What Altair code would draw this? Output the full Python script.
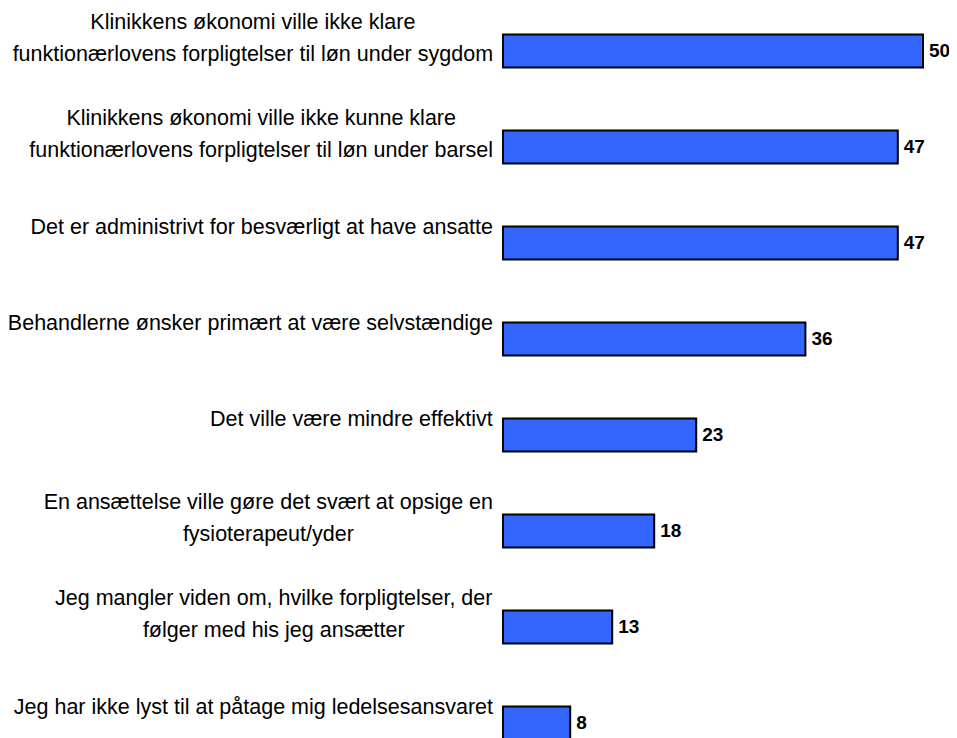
import altair as alt
import pandas as pd

labels = [
    "Klinikkens økonomi ville ikke klare\nfunktionærlovens forpligtelser til løn under sygdom",
    "Klinikkens økonomi ville ikke kunne klare\nfunktionærlovens forpligtelser til løn under barsel",
    "Det er administrivt for besværligt at have ansatte",
    "Behandlerne ønsker primært at være selvstændige",
    "Det ville være mindre effektivt",
    "En ansættelse ville gøre det svært at opsige en\nfysioterapeut/yder",
    "Jeg mangler viden om, hvilke forpligtelser, der\nfølger med his jeg ansætter",
    "Jeg har ikke lyst til at påtage mig ledelsesansvaret",
]
values = [50, 47, 47, 36, 23, 18, 13, 8]

FONT = "Liberation Sans"
FS = 21.5
LH = 32
BAND_HALF = 16.5  # half of the bar thickness (yOffset is measured from band start)

# Arial / Liberation Sans advance widths (per 1000 em) used to centre multi-line labels
_W = dict(zip("abcdefghijklmnopqrstuvwxyz",
              [556, 556, 500, 556, 556, 278, 556, 556, 222, 222, 500, 222, 833,
               556, 556, 556, 556, 333, 500, 278, 556, 500, 722, 500, 500, 500]))
_W.update({" ": 278, ",": 278, "/": 278, ".": 278, "æ": 889, "ø": 611, "å": 556,
           "K": 667, "D": 722, "B": 667, "E": 667, "J": 500})


def text_width(s):
    return max(sum(_W.get(c, 556) for c in line) for line in s.split("\n")) * FS / 1000.0


GAP = 10
df = pd.DataFrame({"label": labels, "value": values})
df["cx"] = [-GAP - text_width(s) / 2 for s in labels]
df["off"] = [BAND_HALF - 15 - (s.count("\n")) * 13 for s in labels]
order = labels

y = alt.Y("label:N", sort=order, axis=None,
          scale=alt.Scale(range=[-5, 763], paddingInner=0.656, paddingOuter=0.328))

base = alt.Chart(df)

bars = base.mark_bar(color="#3366FF", stroke="black", strokeWidth=2).encode(
    x=alt.X("value:Q", axis=None, scale=alt.Scale(domain=[0, 50], nice=False, zero=True)),
    y=y,
)

vals = base.mark_text(align="left", baseline="middle", dx=6, font=FONT, fontSize=19,
                      fontWeight="bold", color="black").encode(
    x=alt.X("value:Q"),
    y=y,
    text=alt.Text("value:Q"),
)

labs = base.mark_text(align="center", baseline="middle", font=FONT, fontSize=FS,
                      lineBreak="\n", lineHeight=LH, color="black").encode(
    x=alt.X("cx:Q", scale=None),
    y=y,
    yOffset=alt.YOffset("off:Q", scale=None),
    text="label:N",
)

chart = alt.layer(bars, vals, labs).properties(
    width=420,
    height=730,
    autosize=alt.AutoSizeParams(type="none"),
    padding={"left": 495, "right": 26, "top": 0, "bottom": 0},
).configure(background="white").configure_view(stroke=None)

chart.save("out.html", embed_options={"renderer": "svg", "actions": False})
